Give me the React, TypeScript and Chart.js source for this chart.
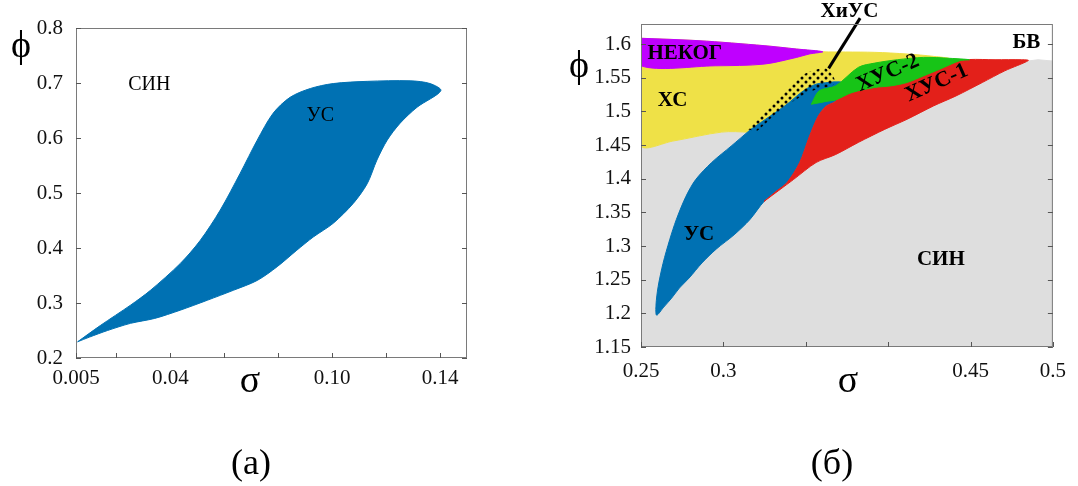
import { useEffect, useRef } from 'react';
import { Chart, registerables } from 'chart.js';

Chart.register(...registerables);

type P = [number, number];

// ---------- panel (а): synchronization regions, small σ ----------
const sigmaTicksA = [0.005, 0.02, 0.04, 0.06, 0.08, 0.1, 0.12, 0.14];
const sigmaTickLabelsA = ['0.005', '', '0.04', '', '', '0.10', '', '0.14'];
const phiTicksA = [0.2, 0.3, 0.4, 0.5, 0.6, 0.7, 0.8];
const phiTickLabelsA = ['0.2', '0.3', '0.4', '0.5', '0.6', '0.7', '0.8'];

// УС band: upper and lower boundaries, left to right
const usUpperA: P[] = [
  [0.0056, 0.2295], [0.014, 0.259], [0.0252, 0.296], [0.0326, 0.323], [0.0437, 0.372],
  [0.0511, 0.414], [0.0585, 0.469], [0.0659, 0.536], [0.0722, 0.596], [0.0781, 0.645],
  [0.0844, 0.674], [0.0919, 0.69], [0.1004, 0.699], [0.113, 0.703], [0.1289, 0.704],
  [0.1363, 0.699], [0.1403, 0.686],
];
const usLowerA: P[] = [
  [0.01, 0.238], [0.0167, 0.25], [0.0252, 0.263], [0.0342, 0.272], [0.0437, 0.287],
  [0.0537, 0.305], [0.0633, 0.323], [0.0722, 0.341], [0.0796, 0.366], [0.0869, 0.396],
  [0.093, 0.42], [0.1004, 0.445], [0.1078, 0.481], [0.113, 0.517], [0.1166, 0.56],
  [0.1204, 0.596], [0.1252, 0.627], [0.1315, 0.656],
];

// ---------- panel (б): regime map, larger σ ----------
const sigmaTicksB = [0.25, 0.3, 0.35, 0.4, 0.45, 0.5];
const sigmaTickLabelsB = ['0.25', '0.3', '', '', '0.45', '0.5'];
const phiTicksB = [1.15, 1.2, 1.25, 1.3, 1.35, 1.4, 1.45, 1.5, 1.55, 1.6];
const phiTickLabelsB = ['1.15', '1.2', '1.25', '1.3', '1.35', '1.4', '1.45', '1.5', '1.55', '1.6'];

// СИН (grey)
const synB: P[] = [
  [0.25, 1.15], [0.5, 1.15], [0.5, 1.5749], [0.491, 1.5769], [0.4833, 1.5745],
  [0.4708, 1.5604], [0.4572, 1.5431], [0.4412, 1.5231], [0.4275, 1.5082], [0.4115, 1.4884],
  [0.3979, 1.4734], [0.3819, 1.454], [0.3682, 1.4361], [0.3563, 1.4242], [0.3425, 1.3988],
  [0.3247, 1.3664], [0.316, 1.4709], [0.299, 1.4694], [0.2693, 1.456], [0.25, 1.45],
];
// ХС (yellow)
const xsB: P[] = [
  [0.25, 1.6088], [0.2852, 1.6052], [0.3247, 1.5978], [0.3445, 1.5928], [0.3603, 1.5888],
  [0.3741, 1.5884], [0.3919, 1.5879], [0.4115, 1.5854], [0.4275, 1.5819], [0.4374, 1.5779],
  [0.4216, 1.566], [0.3919, 1.5481], [0.3741, 1.5361], [0.3563, 1.5257], [0.3386, 1.4958],
  [0.3208, 1.466], [0.3158, 1.469], [0.299, 1.4694], [0.2693, 1.456], [0.25, 1.4496],
];
// НЕКОГ (violet)
const nekogB: P[] = [
  [0.25, 1.6088], [0.2852, 1.6052], [0.3247, 1.5978], [0.3445, 1.5928], [0.3603, 1.5888],
  [0.3521, 1.5854], [0.3445, 1.5804], [0.3247, 1.5704], [0.2951, 1.5679], [0.25, 1.5679],
];
// УС (blue)
const usB: P[] = [
  [0.3166, 1.4734], [0.3285, 1.4933], [0.3386, 1.5107], [0.3485, 1.5306], [0.3563, 1.5406],
  [0.3641, 1.5431], [0.3682, 1.544], [0.373, 1.5421], [0.3712, 1.5257], [0.3682, 1.5152],
  [0.3623, 1.5078], [0.3575, 1.4928], [0.3522, 1.463], [0.3463, 1.4242], [0.3386, 1.3943],
  [0.3326, 1.3824], [0.3247, 1.3664], [0.316, 1.3391], [0.3065, 1.3167], [0.2958, 1.2958],
  [0.287, 1.2749], [0.2792, 1.2525], [0.2733, 1.2376], [0.2686, 1.2227], [0.2638, 1.2093],
  [0.2595, 1.1973], [0.2591, 1.2122], [0.2604, 1.2396], [0.2634, 1.2745], [0.2674, 1.3093],
  [0.2714, 1.3391], [0.2773, 1.3739], [0.2832, 1.3988], [0.2929, 1.4242], [0.3047, 1.4485],
];
// ХУС-1 (red)
const xus1B: P[] = [
  [0.3247, 1.3664], [0.3326, 1.3824], [0.3386, 1.3943], [0.3463, 1.4242], [0.3522, 1.463],
  [0.3575, 1.4928], [0.3623, 1.5078], [0.3682, 1.5152], [0.3801, 1.5481], [0.3919, 1.563],
  [0.4056, 1.569], [0.4216, 1.5719], [0.4374, 1.5734], [0.4493, 1.5772], [0.4649, 1.5769],
  [0.4809, 1.5769], [0.4851, 1.5757], [0.4708, 1.5604], [0.4572, 1.5431], [0.4412, 1.5231],
  [0.4275, 1.5082], [0.4115, 1.4884], [0.3979, 1.4734], [0.3819, 1.454], [0.3682, 1.4361],
  [0.3563, 1.4242], [0.3425, 1.3988],
];
// ХУС-2 (green)
const xus2B: P[] = [
  [0.3534, 1.5107], [0.3581, 1.5306], [0.3682, 1.5381], [0.3819, 1.5655], [0.3919, 1.5719],
  [0.4056, 1.5769], [0.4216, 1.5804], [0.4374, 1.579], [0.4493, 1.5769], [0.4434, 1.5754],
  [0.4315, 1.563], [0.4216, 1.553], [0.4115, 1.5431], [0.4018, 1.5381], [0.3919, 1.5357],
  [0.3781, 1.5282], [0.3682, 1.5172], [0.3641, 1.5157],
];
// ХиУС (dotted coexistence band)
const xiusB: P[] = [
  [0.3148, 1.4734], [0.3243, 1.4973], [0.3332, 1.5197], [0.3421, 1.5421], [0.348, 1.554],
  [0.3552, 1.5615], [0.3617, 1.5645], [0.3658, 1.5555], [0.3682, 1.5436], [0.3652, 1.5376],
  [0.3593, 1.5346], [0.3516, 1.5287], [0.3415, 1.5137], [0.3314, 1.4958], [0.3208, 1.4719],
];
const xiusLeaderB: P[] = [[0.383, 1.6387], [0.3639, 1.564]];

const SERIF = '"Liberation Serif", "Times New Roman", serif';

type RegionLabel = { text: string; x: number; y: number; angle?: number; size?: number };
type FixedText = { text: string; x: number; y: number; size: number };

const labelsA: RegionLabel[] = [
  { text: 'СИН', x: 0.0322, y: 0.6976 },
  { text: 'УС', x: 0.0956, y: 0.6413 },
];
const labelsB: RegionLabel[] = [
  { text: 'НЕКОГ', x: 0.2766, y: 1.5866 },
  { text: 'ХС', x: 0.2692, y: 1.516 },
  { text: 'УС', x: 0.2852, y: 1.3167 },
  { text: 'СИН', x: 0.432, y: 1.2801 },
  { text: 'БВ', x: 0.4839, y: 1.6018 },
  { text: 'ХУС-2', x: 0.3998, y: 1.557, angle: -23.5, size: 22 },
  { text: 'ХУС-1', x: 0.4295, y: 1.5421, angle: -24, size: 22 },
  { text: 'ХиУС', x: 0.3765, y: 1.6488 },
];

const pts = (a: P[]) => a.map(([x, y]) => ({ x, y }));

function region(data: P[], color: any, order: number, tension = 0.3, border = true) {
  return {
    data: pts([...data, data[0]]),
    showLine: true,
    fill: 'shape',
    backgroundColor: color,
    borderColor: border ? color : 'rgba(0,0,0,0)',
    borderWidth: 1,
    pointRadius: 0,
    tension,
    order,
  };
}

function decor(labels: RegionLabel[], bold: boolean, baseSize: number, fixed: FixedText[]) {
  return {
    id: 'decor',
    afterDatasetsDraw(chart: any) {
      const { ctx, chartArea: a, scales } = chart;
      const sx = scales.x;
      const sy = scales.y;
      ctx.save();
      // plot frame
      ctx.strokeStyle = '#7a7a7a';
      ctx.lineWidth = 1;
      ctx.strokeRect(a.left + 0.5, a.top + 0.5, a.right - a.left - 1, a.bottom - a.top - 1);
      // inward tick marks
      ctx.strokeStyle = '#555';
      ctx.beginPath();
      for (const t of sx.ticks) {
        const px = Math.round(sx.getPixelForValue(t.value)) + 0.5;
        ctx.moveTo(px, a.bottom);
        ctx.lineTo(px, a.bottom - 5);
      }
      for (const t of sy.ticks) {
        const py = Math.round(sy.getPixelForValue(t.value)) + 0.5;
        ctx.moveTo(a.left, py);
        ctx.lineTo(a.left + 5, py);
        ctx.moveTo(a.right, py);
        ctx.lineTo(a.right - 5, py);
      }
      ctx.stroke();
      // region names
      ctx.fillStyle = '#000';
      ctx.textAlign = 'center';
      ctx.textBaseline = 'middle';
      for (const l of labels) {
        ctx.save();
        ctx.font = `${bold ? 'bold ' : ''}${l.size ?? baseSize}px ${SERIF}`;
        ctx.translate(sx.getPixelForValue(l.x), sy.getPixelForValue(l.y));
        if (l.angle) ctx.rotate((l.angle * Math.PI) / 180);
        ctx.fillText(l.text, 0, 0);
        ctx.restore();
      }
      // axis symbols and panel caption
      ctx.textBaseline = 'alphabetic';
      for (const f of fixed) {
        ctx.font = `${f.size}px ${SERIF}`;
        ctx.fillText(f.text, f.x, f.y);
      }
      ctx.restore();
    },
  };
}

const tickFont = { family: SERIF, size: 21 };

function axis(min: number, max: number, values: number[], labels: string[], padding: number, fit: (s: any) => void) {
  return {
    type: 'linear',
    min,
    max,
    afterBuildTicks: (s: any) => {
      s.ticks = values.map((value) => ({ value }));
    },
    afterFit: fit,
    grid: { display: false, drawTicks: false },
    border: { display: false },
    ticks: {
      autoSkip: false,
      maxRotation: 0,
      minRotation: 0,
      padding,
      font: tickFont,
      color: '#111',
      callback: (_v: any, i: number) => labels[i] ?? '',
    },
  };
}

function baseOptions(padding: any, scales: any) {
  return {
    responsive: false,
    animation: false,
    devicePixelRatio: 1,
    events: [],
    layout: { padding, autoPadding: false },
    plugins: { legend: { display: false }, tooltip: { enabled: false } },
    scales,
  };
}

// staggered black dots used for the ХиУС band
function dotPattern(): any {
  const c = document.createElement('canvas');
  c.width = 8;
  c.height = 8;
  const g = c.getContext('2d');
  if (!g) return 'rgba(0,0,0,0.35)';
  g.fillStyle = '#000';
  for (const [cx, cy] of [[2, 2], [6, 6]]) {
    g.beginPath();
    g.arc(cx, cy, 1.5, 0, Math.PI * 2);
    g.fill();
  }
  return g.createPattern(c, 'repeat') ?? 'rgba(0,0,0,0.35)';
}

function configA(): any {
  return {
    type: 'line',
    data: {
      datasets: [region([...usUpperA, ...usLowerA.slice().reverse()], '#0071b3', 1, 0.3)],
    },
    options: baseOptions(
      { left: 0, right: 73, top: 28, bottom: 98 },
      {
        x: axis(0.005, 0.15, sigmaTicksA, sigmaTickLabelsA, 8, (s: any) => { s.height = 30; }),
        y: axis(0.2, 0.8, phiTicksA, phiTickLabelsA, 13, (s: any) => { s.width = 76; }),
      },
    ),
    plugins: [
      decor(labelsA, false, 20, [
        { text: 'ϕ', x: 21, y: 57, size: 38 },
        { text: 'σ', x: 250, y: 392, size: 38 },
        { text: '(a)', x: 251, y: 474, size: 36 },
      ]),
    ],
  };
}

function configB(): any {
  return {
    type: 'line',
    data: {
      datasets: [
        region(synB, '#dedede', 10, 0),
        region(xsB, '#efe147', 9, 0.3),
        region(nekogB, '#bf00ff', 8, 0.3),
        region(usB, '#0071b3', 7, 0.3),
        region(xus1B, '#e3201a', 6, 0.3),
        region(xus2B, '#17c417', 5, 0.3),
        region(xiusB, dotPattern(), 4, 0.2, false),
        {
          data: pts(xiusLeaderB),
          showLine: true,
          fill: false,
          borderColor: '#000',
          borderWidth: 3,
          pointRadius: 0,
          clip: false,
          order: 3,
        },
      ],
    },
    options: baseOptions(
      { left: 0, right: 16, top: 24, bottom: 109 },
      {
        x: axis(0.25, 0.5, sigmaTicksB, sigmaTickLabelsB, 12, (s: any) => { s.height = 30; }),
        y: axis(1.15, 1.63, phiTicksB, phiTickLabelsB, 10, (s: any) => { s.width = 101; }),
      },
    ),
    plugins: [
      decor(labelsB, true, 21, [
        { text: 'ϕ', x: 39, y: 77, size: 38 },
        { text: 'σ', x: 308, y: 392, size: 38 },
        { text: '(б)', x: 292, y: 474, size: 36 },
      ]),
    ],
  };
}

export default function App() {
  const refA = useRef<HTMLCanvasElement>(null);
  const refB = useRef<HTMLCanvasElement>(null);

  useEffect(() => {
    const charts: Chart[] = [];
    if (refA.current) charts.push(new Chart(refA.current, configA()));
    if (refB.current) charts.push(new Chart(refB.current, configB()));
    return () => charts.forEach((c) => c.destroy());
  }, []);

  return (
    <div style={{ position: 'absolute', left: 0, top: 0, width: 1078, height: 486, background: '#fff' }}>
      <canvas
        ref={refA}
        width={540}
        height={486}
        style={{ position: 'absolute', left: 0, top: 0, width: 540, height: 486 }}
      />
      <canvas
        ref={refB}
        width={538}
        height={486}
        style={{ position: 'absolute', left: 540, top: 0, width: 538, height: 486 }}
      />
    </div>
  );
}
